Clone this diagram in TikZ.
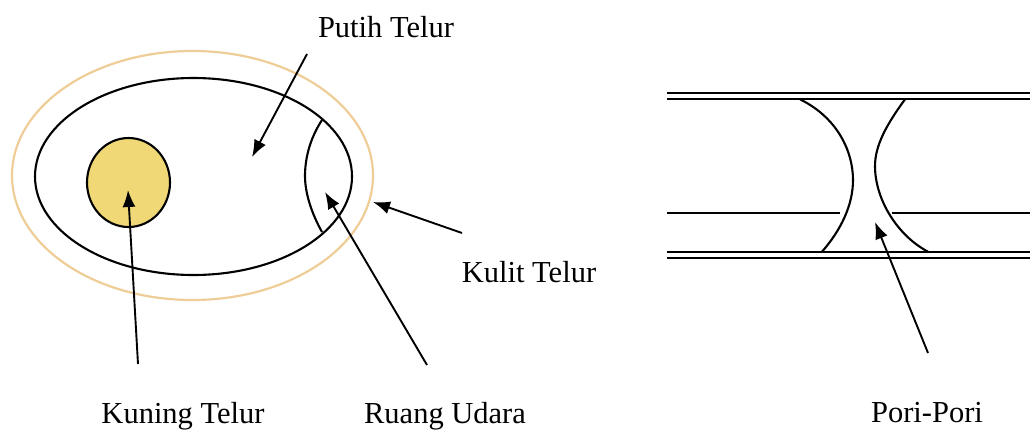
\documentclass[tikz,border=0pt]{standalone}
\usepackage{fontspec}
\setmainfont{Liberation Serif}
\usetikzlibrary{arrows.meta}
\definecolor{shellline}{RGB}{238,205,150}
\definecolor{yolkfill}{RGB}{240,216,118}
\tikzset{
  outline/.style={line width=2.1pt, black},
  pointer/.style={line width=1.9pt, black, -{Latex[length=17pt,width=13pt]}},
  lbl/.style={font=\fontsize{30.5}{36}\selectfont, inner sep=0pt, anchor=base},
}
\begin{document}
\begin{tikzpicture}[x=1pt, y=-1pt]
\useasboundingbox (0,0) rectangle (1030,429);

% egg: shell, white, yolk and air sac
\draw[shellline, line width=2.2pt] (192.5,175.5) ellipse [x radius=180.5, y radius=124.5];
\draw[outline] (193.5,176.5) ellipse [x radius=158.5, y radius=98.5];
\draw[outline, fill=yolkfill] (128.5,182.5) ellipse [x radius=41.5, y radius=44.5];
\draw[outline] (322,120) .. controls (309,140) and (305,160) .. (305,176)
               .. controls (305,195) and (313,216) .. (322,232);

% egg labels
\node[lbl] (putih) at (386,37) {Putih Telur};
\node[lbl] (kuning) at (183,423) {Kuning Telur};
\node[lbl] (ruang) at (445,423) {Ruang Udara};
\node[lbl] (kulit) at (529,282) {Kulit Telur};
\coordinate (putihtip) at (252,157);
\coordinate (putihtail) at (307,54);
\coordinate (kuningtip) at (128,190);
\coordinate (kuningtail) at (138,364);
\coordinate (ruangtip) at (325,192);
\coordinate (ruangtail) at (427,365);
\coordinate (kulittip) at (373,202);
\coordinate (kulittail) at (462,233);
\draw[pointer] (putihtail) -- (putihtip);
\draw[pointer] (kuningtail) -- (kuningtip);
\draw[pointer] (ruangtail) -- (ruangtip);
\draw[pointer] (kulittail) -- (kulittip);

% shell cross-section with a pore
\draw[outline] (667,92.7) -- (1030,92.7);
\draw[outline] (667,99.3) -- (1030,99.3);
\draw[outline] (667,213.3) -- (840,213.3);
\draw[outline] (892,213.3) -- (1030,213.3);
\draw[outline] (667,251.7) -- (1030,251.7);
\draw[outline] (667,257.7) -- (1030,257.7);
\draw[outline] (800,99.3) .. controls (838,118) and (853,152) .. (853,180)
               .. controls (853,205) and (841,230) .. (822,251.7);
\draw[outline] (905,99.3) .. controls (887,124) and (875,145) .. (875,166)
               .. controls (875,200) and (898,236) .. (928,251.7);

\node[lbl] (pori) at (927,422) {Pori-Pori};
\coordinate (poritip) at (875,222);
\coordinate (poritail) at (928,353);
\draw[pointer] (poritail) -- (poritip);
\end{tikzpicture}
\end{document}
